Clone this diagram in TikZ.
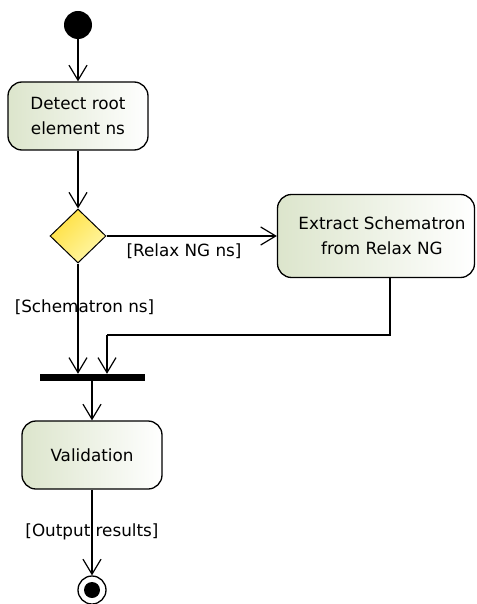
\documentclass[tikz,border=0pt]{standalone}
\usepackage{fontspec}
\setmainfont{DejaVu Sans}
\usetikzlibrary{arrows.meta,shapes.geometric}
\definecolor{actgreen}{HTML}{DCE5CC}
\definecolor{dyel1}{HTML}{FFE040}
\definecolor{dyel2}{HTML}{FFF7A8}
\tikzset{
  conn/.style={draw=black, line width=1.3pt, -{Straight Barb[length=15pt,width=18pt,line width=1.2pt]}},
  plainline/.style={draw=black, line width=1.3pt},
  actbox/.style={draw=black, line width=1.3pt, rounded corners=14pt, left color=actgreen, right color=white, align=center, font=\fontsize{16.8}{25}\selectfont, inner sep=0pt},
  decision/.style={diamond, draw=black, line width=1pt, shading=axis, top color=dyel1, bottom color=dyel2, shading angle=45, inner sep=0pt, minimum width=56pt, minimum height=54pt},
  guard/.style={font=\fontsize{16.8}{18}\selectfont, inner sep=1pt},
  startdot/.style={circle, fill=black, minimum size=28pt, inner sep=0pt},
  enddot/.style={circle, draw=black, line width=1.3pt, fill=white, minimum size=28pt, inner sep=0pt},
  forkbar/.style={rectangle, fill=black, minimum width=105pt, minimum height=7pt, inner sep=0pt}
}
\begin{document}
\begin{tikzpicture}[x=1pt,y=-1pt]
\useasboundingbox (0,0) rectangle (476,604);
\node[startdot] (start) at (78,25) {};
\node[actbox, minimum width=140pt, minimum height=68pt] (detect) at (78,116) {Detect root\\element ns};
\node[decision] (dec) at (78,236) {};
\node[actbox, minimum width=197pt, minimum height=83pt] (extract) at (376,236) {\hspace*{12pt}Extract Schematron\\\hspace*{12pt}from Relax NG};
\node[forkbar] (bar) at (92.5,377.5) {};
\node[actbox, minimum width=140pt, minimum height=68pt] (valid) at (92,455) {Validation};
\node[enddot] (end) at (92,590) {};
\fill[black] (end.center) circle (8pt);
\coordinate (j) at (107,335);

\draw[conn] (start) -- (detect.north);
\draw[conn] (detect.south) -- (dec.north);
\draw[conn] (dec.east) -- (extract.west);
\node[guard] (g1) at (184,251) {[Relax NG ns]};
\node[guard] (g2) at (84.5,307) {[Schematron ns]};
\draw[conn] (dec.south) -- (dec.south |- bar.north);
\draw[plainline] ([xshift=14pt]extract.south) |- (j);
\draw[conn] (j) -- (j |- bar.north);
\draw[conn] (valid.north |- bar.south) -- (valid.north);
\node[guard] (g3) at (92,532) {[Output results]};
\draw[conn] (valid.south) -- (end.north);
\end{tikzpicture}
\end{document}
